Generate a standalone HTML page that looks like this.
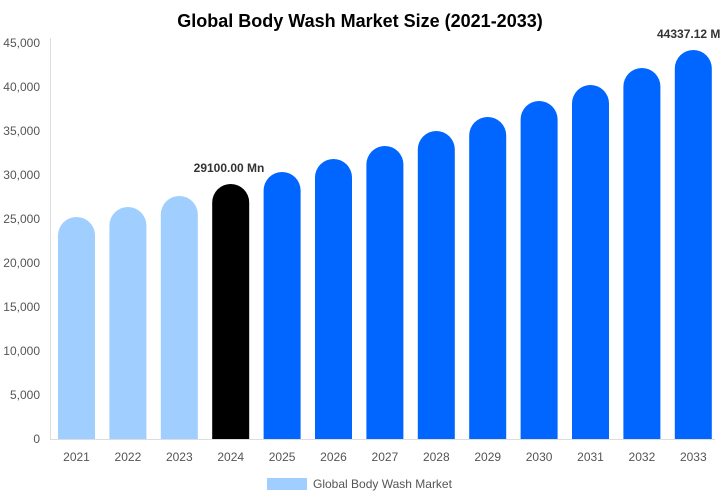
<!DOCTYPE html>
<html><head><meta charset="utf-8"><style>
body{margin:0;background:#fff;}
svg{display:block;font-family:"Liberation Sans",Arial,sans-serif;}
</style></head><body>
<svg width="720" height="500" viewBox="0 0 720 500">
<text x="360" y="27" text-anchor="middle" font-size="18" font-weight="bold" fill="#000">Global Body Wash Market Size (2021-2033)</text>
<g font-size="12" fill="#555" text-anchor="end">
<text x="40" y="443">0</text>
<text x="40" y="399">5,000</text>
<text x="40" y="355">10,000</text>
<text x="40" y="311">15,000</text>
<text x="40" y="267">20,000</text>
<text x="40" y="223">25,000</text>
<text x="40" y="179">30,000</text>
<text x="40" y="135">35,000</text>
<text x="40" y="91">40,000</text>
<text x="40" y="47">45,000</text>
</g>
<line x1="50.5" y1="38" x2="50.5" y2="439" stroke="#ddd"/>
<line x1="50" y1="439.5" x2="715" y2="439.5" stroke="#ddd"/>
<g>
<path d="M58 439 V235.5 A18.5 18.5 0 0 1 95 235.5 V439 Z" fill="#a0cfff"/>
<path d="M109.4 439 V225.5 A18.5 18.5 0 0 1 146.4 225.5 V439 Z" fill="#a0cfff"/>
<path d="M160.8 439 V214.5 A18.5 18.5 0 0 1 197.8 214.5 V439 Z" fill="#a0cfff"/>
<path d="M212.2 439 V202.5 A18.5 18.5 0 0 1 249.2 202.5 V439 Z" fill="#000"/>
<path d="M263.6 439 V190.5 A18.5 18.5 0 0 1 300.6 190.5 V439 Z" fill="#0066ff"/>
<path d="M315 439 V177.5 A18.5 18.5 0 0 1 352 177.5 V439 Z" fill="#0066ff"/>
<path d="M366.4 439 V164.5 A18.5 18.5 0 0 1 403.4 164.5 V439 Z" fill="#0066ff"/>
<path d="M417.8 439 V149.5 A18.5 18.5 0 0 1 454.8 149.5 V439 Z" fill="#0066ff"/>
<path d="M469.2 439 V135.5 A18.5 18.5 0 0 1 506.2 135.5 V439 Z" fill="#0066ff"/>
<path d="M520.6 439 V119.5 A18.5 18.5 0 0 1 557.6 119.5 V439 Z" fill="#0066ff"/>
<path d="M572 439 V103.5 A18.5 18.5 0 0 1 609 103.5 V439 Z" fill="#0066ff"/>
<path d="M623.4 439 V86.5 A18.5 18.5 0 0 1 660.4 86.5 V439 Z" fill="#0066ff"/>
<path d="M674.8 439 V68.5 A18.5 18.5 0 0 1 711.8 68.5 V439 Z" fill="#0066ff"/>
</g>
<g font-size="12" fill="#555" text-anchor="middle">
<text x="76.5" y="461">2021</text>
<text x="127.9" y="461">2022</text>
<text x="179.3" y="461">2023</text>
<text x="230.7" y="461">2024</text>
<text x="282.1" y="461">2025</text>
<text x="333.5" y="461">2026</text>
<text x="384.9" y="461">2027</text>
<text x="436.3" y="461">2028</text>
<text x="487.7" y="461">2029</text>
<text x="539.1" y="461">2030</text>
<text x="590.5" y="461">2031</text>
<text x="641.9" y="461">2032</text>
<text x="693.3" y="461">2033</text>
</g>
<text x="229" y="172" text-anchor="middle" font-size="12" font-weight="bold" fill="#333">29100.00 Mn</text>
<text x="657" y="38" font-size="12" font-weight="bold" fill="#333">44337.12 M</text>
<rect x="267" y="478" width="40" height="12" fill="#a0cfff"/>
<text x="313" y="488" font-size="12" fill="#555">Global Body Wash Market</text>
</svg>
</body></html>
